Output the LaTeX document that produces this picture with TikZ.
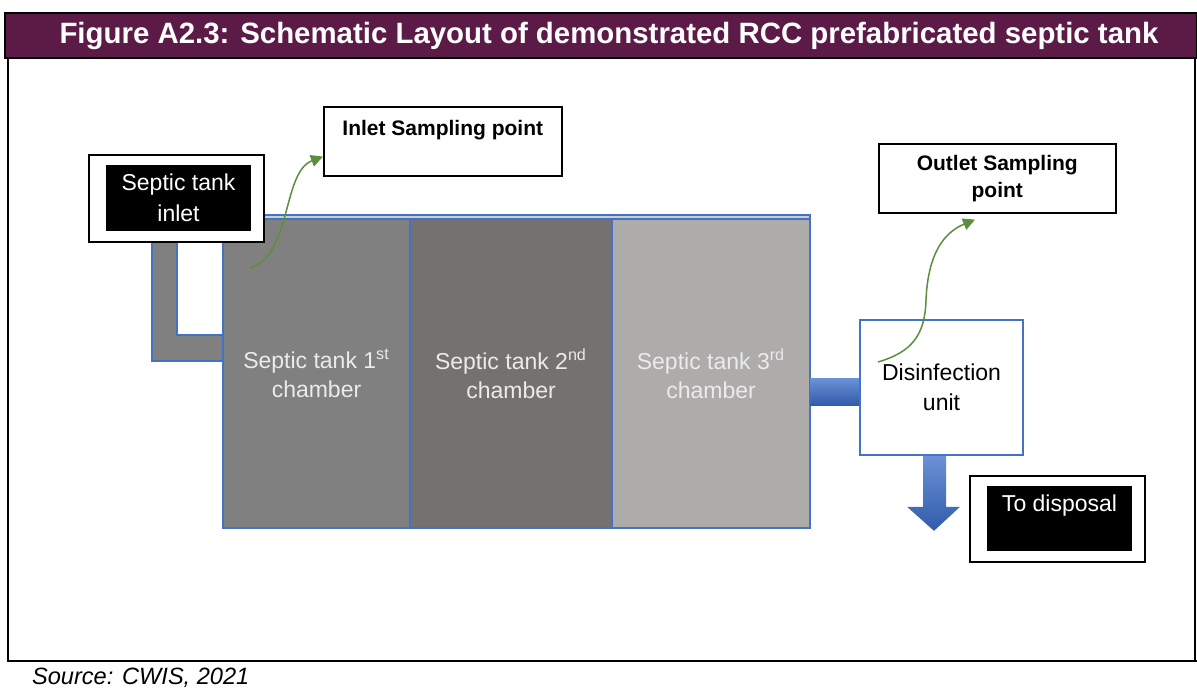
\documentclass[tikz,border=0pt]{standalone}
\usepackage{fontspec}
\setmainfont{Liberation Sans}
\usetikzlibrary{arrows.meta}

\definecolor{titlepurple}{HTML}{5C1A46}
\definecolor{tankblue}{HTML}{4472C4}
\definecolor{chamberone}{HTML}{808080}
\definecolor{chambertwo}{HTML}{767171}
\definecolor{chamberthree}{HTML}{AEABAB}
\definecolor{samplegreen}{HTML}{5A8F3C}
\definecolor{pipeblue}{HTML}{3A6CC9}

\tikzset{
  chamber/.style={draw=tankblue, line width=0.6pt, anchor=north west, minimum height=154.5pt,
    inner sep=0pt, outer sep=0pt, align=center, text=white!92!black, font=\fontsize{11.5}{14.5}\selectfont},
  labelbox/.style={draw=black, line width=1pt, fill=white, inner sep=0pt},
  blackbox/.style={fill=black, text=white, align=center, inner sep=0pt,
    font=\fontsize{11.5}{15.5}\selectfont},
  sampbox/.style={draw=black, line width=0.8pt, fill=white, align=center, inner sep=0pt,
    anchor=north west, font=\bfseries\fontsize{10.5}{13.5}\selectfont},
  sampling/.style={draw=samplegreen, line width=0.75pt, -{Triangle[length=6pt,width=6pt]}},
  pipe/.style={top color=pipeblue!75!white, bottom color=pipeblue!85!black}
}

\begin{document}
\begin{tikzpicture}[x=0.5pt, y=-0.5pt]
  \useasboundingbox (0,0) rectangle (1197,687);

  % frame and heading
  \draw[line width=0.8pt, fill=titlepurple] (5,13) rectangle (1197,58);
  \node[text=white, inner sep=0pt, font=\bfseries\fontsize{14.7}{17}\selectfont]
    (title) at (609,35.5) {Figure A2.3: Schematic Layout of demonstrated RCC prefabricated septic tank};
  \draw[line width=1pt] (8,58) -- (8,661) -- (1197,661);
  \draw[line width=1pt] (1195,58) -- (1195,661);
  \node[anchor=base west, font=\itshape\fontsize{11.8}{14}\selectfont] (source) at (25,684) {Source: CWIS, 2021};

  % inlet pipe
  \fill[chamberone] (152,242) -- (177,242) -- (177,335) -- (223,335) -- (223,361) -- (152,361) -- cycle;
  \draw[tankblue, line width=0.8pt] (152,242) -- (152,361) -- (223,361)
    (177,242) -- (177,335) -- (223,335);

  % tank and chambers
  \draw[tankblue, line width=0.8pt, fill=chamberthree!60!white] (223,215) rectangle (810,528);
  \node[chamber, fill=chamberone, minimum width=93.5pt] (ch1) at (223,219)
    {Septic tank 1\textsuperscript{st}\\chamber};
  \node[chamber, fill=chambertwo, minimum width=101pt] (ch2) at (ch1.north east)
    {Septic tank 2\textsuperscript{nd}\\chamber};
  \node[chamber, fill=chamberthree, minimum width=99pt] (ch3) at (ch2.north east)
    {Septic tank 3\textsuperscript{rd}\\chamber};

  % inlet
  \node[labelbox, minimum width=87.5pt, minimum height=43.5pt] (inlet) at (176.5,198.5) {};
  \node[blackbox, minimum width=72.5pt, minimum height=33pt] (inlettext) at (178.5,198) {Septic tank\\inlet};

  % disinfection and disposal
  \node[draw=tankblue, line width=0.8pt, fill=white, align=center, inner sep=0pt,
    minimum width=81.5pt, minimum height=67.5pt, font=\fontsize{11.5}{15}\selectfont]
    (dis) at (941.5,387.5) {Disinfection\\unit};
  \shade[pipe] ([yshift=-2.25pt]ch3.east) rectangle ([yshift=-8.75pt]dis.west);
  \shade[pipe] (dis.south) ++(-18.5,0) -- ++(23,0) -- ++(0,51) -- ++(14,0) -- ++(-26,24)
    -- ++(-27,-24) -- ++(16,0) -- cycle;
  \node[labelbox, minimum width=87.5pt, minimum height=43pt] (disposal) at (1057.5,519) {};
  \node[blackbox, minimum width=72.5pt, minimum height=32.5pt] (disposaltext) at (1059.5,518.5)
    {To disposal\\\mbox{}};

  % sampling points
  \node[sampbox, minimum width=119pt, minimum height=34.5pt] (insamp) at (323,106)
    {Inlet Sampling point\\\mbox{}};
  \node[sampbox, minimum width=118.5pt, minimum height=34.5pt] (outsamp) at (878,143)
    {Outlet Sampling\\point};
  \coordinate (insampfrom) at (250,268);
  \coordinate (outsampfrom) at (878,362);
  \draw[sampling] (insampfrom) .. controls (292,255) and (282,172) .. ([yshift=10pt]insamp.south west);
  \draw[sampling] (outsampfrom) .. controls (912,352) and (925,335) .. (926,300)
    .. controls (928,252) and (945,232) .. ([shift={(97,6)}]outsamp.south west);
\end{tikzpicture}
\end{document}
